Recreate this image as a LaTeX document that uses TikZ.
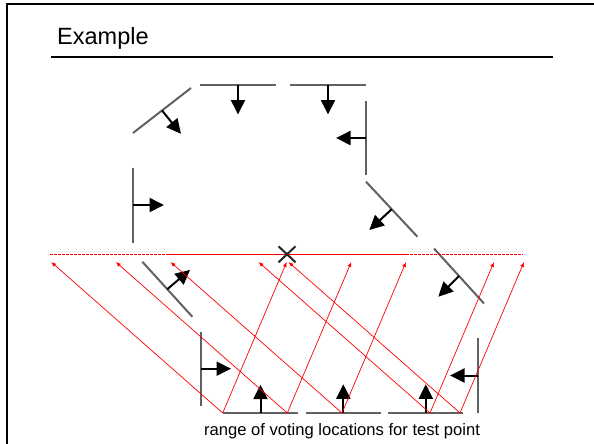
\documentclass[tikz,border=0pt]{standalone}
\usepackage{fontspec}
\setmainfont{Liberation Sans}
\usetikzlibrary{arrows.meta}
\begin{document}
\begin{tikzpicture}
    [x=1pt,y=-1pt,
     wall/.style={draw=black!62,line width=2pt},
     normal/.style={draw=black,line width=2pt,-{Triangle[length=14.5pt,width=14pt]}},
     vote/.style={draw=red,line width=0.7pt,-{Latex[length=5pt,width=4pt]}},
     band/.style={draw=red,line width=1pt}]
    \useasboundingbox (0,0) rectangle (594,444);
    \draw[line width=2.6pt] (7,444) -- (7,4) -- (594,4);
    \node[anchor=base west,inner sep=0pt,font=\fontsize{23.5}{28}\selectfont] (title) at (57,45) {Example};
    \draw[line width=2pt] (51,57.5) -- (553,57.5);
    \foreach \cx/\cy/\dx/\dy/\nx/\ny in {162/110.5/29/-22.5/19/23.3,
        238/85/38/0/0/29.5, 328/85/38/0/0/29.5, 365.7/138/0/37/-29.7/0,
        133/205/0/37.5/31/0, 391.7/209.2/25.7/27.5/-22.4/20.8,
        459/276/25/27.5/-20.7/20.7, 167.3/289.2/25/27.5/22.7/-19.3,
        200.7/368.7/0/37/30.3/0, 260.5/413/37.5/0/0/-28.3,
        343.3/413/37.3/0/0/-28.7, 425.8/413/37.5/0/0/-28.7,
        478.3/375.5/0/37.2/-28.3/0}
      {\draw[wall] ({\cx-(\dx)},{\cy-(\dy)}) -- ({\cx+\dx},{\cy+\dy});
       \draw[normal] (\cx,\cy) -- ++(\nx,\ny);}
    \draw[band,dash pattern=on 2.5pt off 1.5pt] (50,254.3) -- (167,254.3);
    \draw[band] (167,254.3) -- (406,254.3);
    \draw[band,dash pattern=on 2.5pt off 1.5pt] (406,254.3) -- (523,254.3);
    \foreach \b [count=\i] in {222.7,287.3,342,430,460}
      {\coordinate (base\i) at (\b,413);
       \draw[vote] (base\i) -- ++(-171.5,-151);
       \draw[vote] (base\i) -- ++(64,-151);}
    \coordinate (test) at (287,254.3);
    \draw[line width=2pt,black!85] (test) ++(-8.5,-8) -- ++(17,16)
      (test) ++(-8.5,8) -- ++(17,-16);
    \node[anchor=base,inner sep=0pt,font=\fontsize{16.6}{20}\selectfont] (caption) at (342,435) {range of voting locations for test point};
\end{tikzpicture}
\end{document}
